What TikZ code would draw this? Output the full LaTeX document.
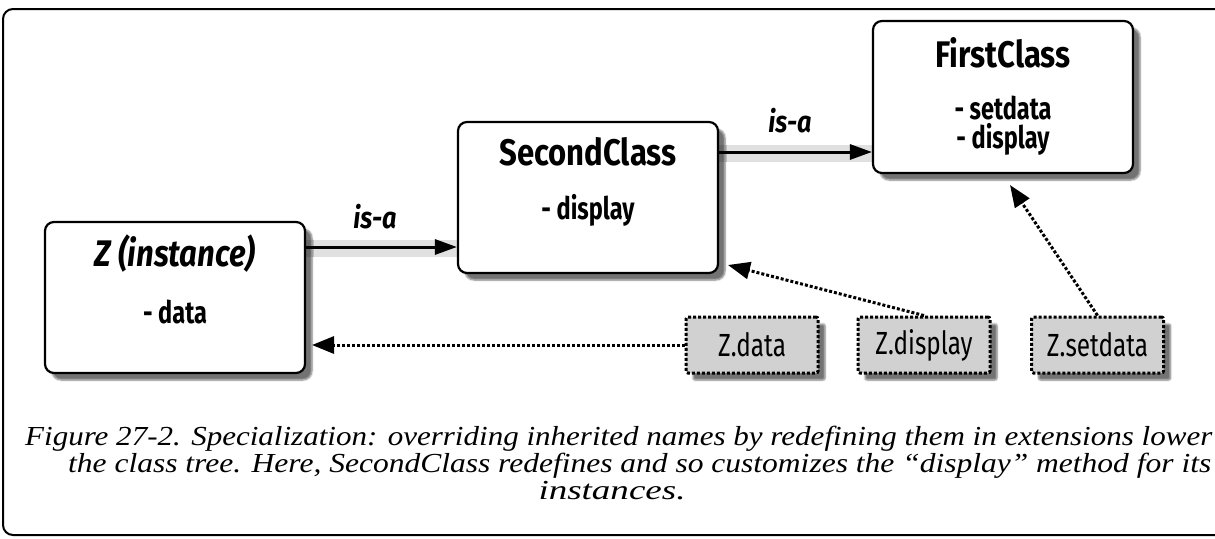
\documentclass[tikz,border=0pt]{standalone}
\usepackage{fontspec}
\usepackage{graphicx}
\usetikzlibrary{shadows.blur,arrows.meta}
\newfontfamily\cond[FakeStretch=0.76]{Fira Sans}
\newfontfamily\condb[FakeStretch=0.84]{Fira Sans}
\newfontfamily\capfont{Liberation Serif}
\tikzset{
  shad/.style={blur shadow={shadow xshift=7pt,shadow yshift=-7pt,shadow blur steps=6,shadow opacity=55}},
  clsbox/.style={draw,line width=2.2pt,rounded corners=9pt,fill=white,shad,inner sep=0pt},
  objbox/.style={draw,line width=3pt,dash pattern=on 3pt off 2pt,rounded corners=2pt,fill=black!18,shad,inner sep=0pt,
     minimum width=132pt,minimum height=56pt,font=\cond\fontsize{32}{34}\selectfont},
  ttl/.style={font=\condb\bfseries\fontsize{37}{40}\selectfont,inner sep=0pt},
  itm/.style={font=\cond\bfseries\fontsize{31}{32}\selectfont,inner sep=0pt,align=center},
  isalbl/.style={font=\condb\bfseries\itshape\fontsize{30}{32}\selectfont,inner sep=0pt},
  isa/.style={line width=3pt,-{Triangle[length=22pt,width=15pt]}},
  dotarrow/.style={line width=3pt,dash pattern=on 3pt off 2pt,-{Triangle[length=22pt,width=17pt]}},
  band/.style={fill=black!12},
  capline/.style={font=\capfont\itshape\fontsize{27.5}{30}\selectfont,inner sep=0pt}
}
\begin{document}
\begin{tikzpicture}[x=1pt,y=-1pt]
\useasboundingbox (0,0) rectangle (1215,538);
% outer frame (clipped at right)
\draw[line width=2pt,rounded corners=10pt] (1215,9) -- (3,9) -- (3,535) -- (1215,535);

% coordinates
\coordinate (y1) at (0,247);
\coordinate (y1a) at (0,240);
\coordinate (y1b) at (0,257);
\coordinate (y2) at (0,152);
\coordinate (y2a) at (0,145);
\coordinate (y2b) at (0,162);
\coordinate (xz) at (304,0);
\coordinate (xs1) at (458,0);
\coordinate (xs2) at (718,0);
\coordinate (xf) at (873,0);

% bands behind is-a arrows
\fill[band] (xz |- y1a) rectangle (xs1 |- y1b);
\fill[band] (xs2 |- y2a) rectangle (xf |- y2b);

% class boxes
\node[clsbox,minimum width=260pt,minimum height=151pt] (zb) at (175,297.5) {};
\node[clsbox,minimum width=260pt,minimum height=151pt] (sc) at (588,197.5) {};
\node[clsbox,minimum width=260pt,minimum height=152pt] (fc) at (1003,97) {};

% texts in class boxes
\node[ttl,font=\condb\bfseries\itshape\fontsize{37}{40}\selectfont] (zt) at (175,254) {Z (instance)};
\node[itm] (zi) at (175,312) {- data};
\node[ttl] (st) at (588,152) {SecondClass};
\node[itm] (si) at (588,210) {- display};
\node[ttl] (ft) at (1003,53) {FirstClass};
\node[itm] (fi1) at (1003,108) {- setdata};
\node[itm] (fi2) at (1003,139) {- display};

% is-a arrows
\draw[isa] (zb.east |- y1) -- (sc.west |- y1);
\draw[isa] (sc.east |- y2) -- (fc.west |- y2);
\node[isalbl] (l1) at (375,217) {is-a};
\node[isalbl] (l2) at (790,121) {is-a};

% object boxes
\node[objbox] (zd) at (752,345) {Z.data};
\node[objbox] (zp) at (924,345) {Z.display};
\node[objbox] (zs) at (1097.5,345) {Z.setdata};

% dotted arrows
\coordinate (t1) at (312,345);
\coordinate (t2) at (728,265);
\coordinate (t3) at (1010,185);
\draw[dotarrow] (zd.west) -- (t1);
\draw[dotarrow] (zp.north) -- (t2);
\draw[dotarrow] (zs.north) -- (t3);

% caption
\node[capline,anchor=base west] (c1) at (25,445) {\resizebox{1187pt}{\height}{Figure 27-2. Specialization: overriding inherited names by redefining them in extensions lower}};
\node[capline,anchor=base west] (c2) at (68,472) {\resizebox{1143pt}{\height}{the class tree. Here, SecondClass redefines and so customizes the “display” method for its}};
\node[capline,anchor=base] (c3) at (612,499) {\resizebox{147pt}{\height}{instances.}};
\end{tikzpicture}
\end{document}
